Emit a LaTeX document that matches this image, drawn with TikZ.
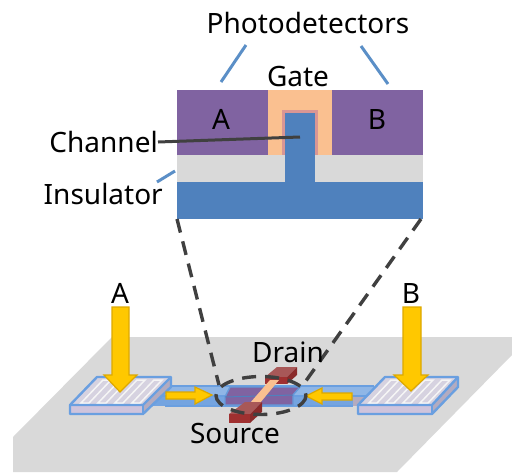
\documentclass[tikz,border=0pt]{standalone}
\usepackage{fontspec}
\setmainfont{Noto Sans}
\definecolor{purp}{HTML}{8063A1}
\definecolor{peach}{HTML}{FAC090}
\definecolor{pinkb}{HTML}{D99694}
\definecolor{fin}{HTML}{4F81BD}
\definecolor{grayi}{HTML}{D9D9D9}
\definecolor{lead}{HTML}{5B8FC7}
\definecolor{dk}{HTML}{404040}
\definecolor{pad}{HTML}{6A9FE0}
\definecolor{bandt}{HTML}{8FB6E6}
\definecolor{bandb}{HTML}{74A4E0}
\definecolor{padtop}{HTML}{D6D2E0}
\definecolor{padfront}{HTML}{CFC4DC}
\definecolor{padside}{HTML}{B3ABC0}
\definecolor{gold}{HTML}{FFC800}
\definecolor{goldd}{HTML}{DDA800}
\definecolor{redt}{HTML}{A85858}
\definecolor{redf}{HTML}{A03030}
\definecolor{reds}{HTML}{8A2A2A}
\tikzset{
  lbl/.style={inner sep=0pt,font=\fontsize{28}{28}\selectfont,text=black},
  leadline/.style={draw=lead,line width=3pt},
  darkline/.style={draw=dk,line width=3pt},
  dashline/.style={draw=dk,line width=3.4pt,dash pattern=on 14pt off 9pt},
  bolt/.style={fill=gold,draw=goldd,line width=1.2pt,line join=miter},
  padedge/.style={draw=pad,line width=2.4pt,line join=round},
  strip/.style={draw=white!92!gray,line width=1.5pt}
}
\begin{document}
\begin{tikzpicture}[x=1pt,y=-1pt]
\useasboundingbox (0,0) rectangle (512,472);
% plane
\fill[grayi] (13,472) -- (13,437) -- (112,337) -- (512,337) -- (512,355) -- (397,472) -- cycle;
% top cross-section
\fill[purp] (177,90) rectangle (268,155);
\fill[purp] (332,90) rectangle (423,155);
\fill[peach] (268,90) rectangle (332,155);
\fill[pinkb] (282,110) rectangle (318,155);
\fill[grayi] (177,155) rectangle (423,182);
\fill[fin] (177,182) rectangle (423,219);
\fill[fin] (285,113) rectangle (315,182);
% texts
\node[lbl] (pd) at (308,23) {Photodetectors};
\node[lbl] (gate) at (298,77) {Gate};
\node[lbl] (la) at (221,119) {A};
\node[lbl] (lb) at (377,119) {B};
\node[lbl,anchor=east] (chan) at (158,142) {Channel};
\node[lbl,anchor=east] (ins) at (163,194) {Insulator};
\coordinate (chanend) at (300,137);
\coordinate (insend) at (175,171);
\coordinate (pda) at (221,82);
\coordinate (pdb) at (388,84);
\coordinate (pdas) at (246,45);
\coordinate (pdbs) at (361,46);
\coordinate (inss) at (157,182);
\draw[leadline] (pdas) -- (pda);
\draw[leadline] (pdbs) -- (pdb);
\draw[leadline] (inss) -- (insend);
\draw[darkline] (chan.east) -- (chanend);
% wave guides
\fill[bandt] (150,386) rectangle (374,396);
\fill[bandb] (150,396) rectangle (353,406);
\fill[padside] (353,396) rectangle (374,406);
\draw[pad,line width=1.6pt] (150,386) -- (374,386);
\draw[pad,line width=1.6pt] (165,406) -- (353,406);
\draw[pad,line width=1.2pt] (150,396) -- (374,396);
% left pad
\fill[padtop] (97,377) -- (171,377) -- (143,405) -- (70,405) -- cycle;
\foreach \i in {0,1,2,3} {
  \draw[strip] (103+\i*17,380) -- (81+\i*17,403) -- (89+\i*17,403) -- (111+\i*17,380) -- cycle;
}
\fill[padfront] (70,405) rectangle (143,414);
\fill[padside] (143,405) -- (171,377) -- (171,387) -- (143,414) -- cycle;
\draw[padedge] (97,377) -- (171,377) -- (171,387) -- (143,414) -- (70,414) -- (70,405) -- cycle;
\draw[padedge] (70,405) -- (143,405) -- (171,377);
\draw[padedge] (143,405) -- (143,414);
% right pad
\fill[padtop] (385,377) -- (458,377) -- (432,405) -- (358,405) -- cycle;
\foreach \i in {0,1,2,3} {
  \draw[strip] (391+\i*17,380) -- (369+\i*17,403) -- (377+\i*17,403) -- (399+\i*17,380) -- cycle;
}
\fill[padfront] (358,405) rectangle (432,414);
\fill[padside] (432,405) -- (458,377) -- (458,387) -- (432,414) -- cycle;
\draw[padedge] (385,377) -- (458,377) -- (458,387) -- (432,414) -- (358,414) -- (358,405) -- cycle;
\draw[padedge] (358,405) -- (432,405) -- (458,377);
\draw[padedge] (432,405) -- (432,414);
% big arrows
\draw[bolt] (112,307) -- (129,307) -- (129,375) -- (137,375) -- (120,392) -- (104,375) -- (112,375) -- cycle;
\draw[bolt] (403,307) -- (421,307) -- (421,375) -- (428,375) -- (411,391) -- (394,375) -- (403,375) -- cycle;
% small arrows
\draw[bolt] (166,392) -- (195,392) -- (195,387) -- (212,395) -- (195,404) -- (195,399) -- (166,399) -- cycle;
\draw[bolt] (352,393) -- (322,393) -- (322,388) -- (306,396) -- (322,404) -- (322,400) -- (352,400) -- cycle;
% channel device
\fill[purp,draw=pad!80!fin,line width=1.4pt] (230,387) -- (300,387) -- (293,395) -- (293,405) -- (225,405) -- (225,397) -- cycle;
\draw[fin,line width=1pt] (225,397) -- (293,395);
\fill[redt] (277,367) -- (297,367) -- (287,377) -- (265,377) -- cycle;
\fill[redf] (265,377) rectangle (287,384);
\fill[reds] (287,377) -- (297,367) -- (297,375) -- (287,384) -- cycle;
\fill[peach] (270,380) -- (279,380) -- (260,403) -- (250,403) -- cycle;
\fill[redt] (245,402) -- (262,402) -- (250,414) -- (229,414) -- cycle;
\fill[redf] (229,414) rectangle (250,423);
\fill[reds] (250,414) -- (262,402) -- (262,412) -- (250,423) -- cycle;
% zoom ellipse and dashes
\node[draw=none,inner sep=0pt,minimum size=0pt] (focus) at (261,395.5) {};
\draw[dashline] (focus) ellipse [x radius=45,y radius=19];
\coordinate (tl) at (177,219);
\coordinate (tr) at (421,219);
\coordinate (bl) at (219,385);
\coordinate (br) at (303,385);
\draw[dashline] (tl) -- (bl);
\draw[dashline] (tr) -- (br);
% lower labels
\node[lbl] (arra) at (120,293) {A};
\node[lbl] (arrb) at (411,293) {B};
\node[lbl] (drain) at (288,352) {Drain};
\node[lbl] (source) at (235,433) {Source};
\end{tikzpicture}
\end{document}
